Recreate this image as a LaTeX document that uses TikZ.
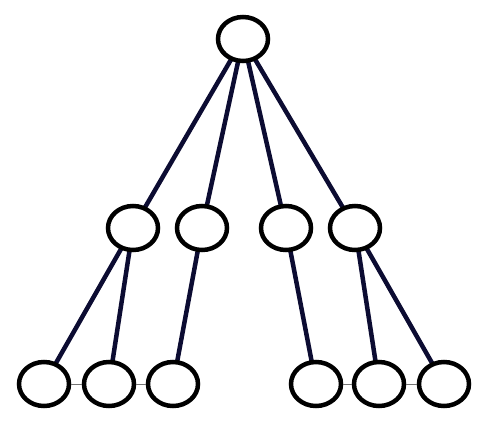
\documentclass[tikz,border=0pt]{standalone}
\usepackage{tikz}
\usetikzlibrary{shapes.geometric,backgrounds}
\definecolor{navy}{RGB}{12,12,50}

\begin{document}
\begin{tikzpicture}[
  x=1pt,
  y=-1pt,
  vertex/.style={ellipse,draw=black,line width=4.5pt,fill=white,minimum width=50pt,minimum height=44pt,inner sep=0pt},
  branch/.style={draw=navy,line width=4.5pt},
  link/.style={draw=black!55,line width=1pt}
]
\useasboundingbox (0,0) rectangle (503,426);
\node[vertex] (r) at (243,39) {};
\foreach \x [count=\i] in {133,202,286,355} {
  \node[vertex] (m\i) at (\x,228) {};
}
\foreach \x [count=\i] in {44,109,173,316,379,444} {
  \node[vertex] (b\i) at (\x,384) {};
}
\begin{scope}[on background layer]
\foreach \i in {1,...,4} {
  \draw[branch] (r.center) -- (m\i.center);
}
\draw[branch] (m1.center) -- (b1.center);
\draw[branch] (m1.center) -- (b2.center);
\draw[branch] (m2.center) -- (b3.center);
\draw[branch] (m3.center) -- (b4.center);
\draw[branch] (m4.center) -- (b5.center);
\draw[branch] (m4.center) -- (b6.center);
\end{scope}
\draw[link] (b1) -- (b2);
\draw[link] (b2) -- (b3);
\draw[link] (b4) -- (b5);
\draw[link] (b5) -- (b6);
\end{tikzpicture}
\end{document}
